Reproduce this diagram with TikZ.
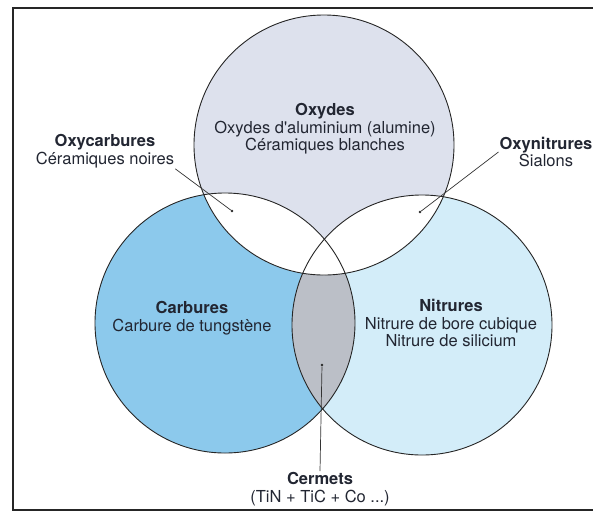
\documentclass[tikz,border=0pt]{standalone}
\usepackage{fontspec}
\setmainfont{TeX Gyre Heros}
\usetikzlibrary{positioning}
\definecolor{oxgris}{RGB}{221,225,237}
\definecolor{carbleu}{RGB}{140,201,236}
\definecolor{nitcyan}{RGB}{211,237,249}
\definecolor{cergris}{RGB}{187,191,199}
\definecolor{texte}{RGB}{34,38,50}

\begin{document}
\begin{tikzpicture}[x=1pt,y=-1pt]
					\tikzstyle{label} = [text=texte,align=center,font=\fontsize{16.5}{17.5}\selectfont,inner sep=1pt]
					\tikzstyle{contour} = [draw=black!85,line width=0.9pt]
					\tikzstyle{pointer} = [draw=black!80,line width=0.7pt]
					\tikzstyle{dot} = [circle,fill=black!85,inner sep=0pt,minimum size=2.6pt]
					\useasboundingbox (0,0) rectangle (593,512);
					\clip (0,0) rectangle (593,512);
					\def\rayon{130pt}
					\coordinate (cO) at (324,145);
					\coordinate (cC) at (225,323);
					\coordinate (cN) at (422,325);
					% surfaces
					\fill[carbleu] (cC) circle (\rayon);
					\fill[nitcyan] (cN) circle (\rayon);
					\begin{scope}
					\clip (cC) circle (\rayon);
					\fill[cergris] (cN) circle (\rayon);
					\end{scope}
					\fill[oxgris] (cO) circle (\rayon);
					\begin{scope}
					\clip (cO) circle (\rayon);
					\fill[white] (cC) circle (\rayon);
					\fill[white] (cN) circle (\rayon);
					\end{scope}
					\draw[contour] (cO) circle (\rayon);
					\draw[contour] (cC) circle (\rayon);
					\draw[contour] (cN) circle (\rayon);
					% cadre
					\draw[line width=1.6pt,black!85] (13,8) rectangle (612,510);
					% textes
					\node[label] (oxydes) at (325,129) {\textbf{Oxydes}\\Oxydes d\textquotesingle aluminium (alumine)\\Céramiques blanches};
					\node[label] (oxycarb) at (105,151) {\textbf{Oxycarbures}\\Céramiques noires};
					\node[label] (oxynitr) at (546,152) {\textbf{Oxynitrures}\\Sialons};
					\node[label] (carbures) at (192,318) {\textbf{Carbures}\\Carbure de tungstène};
					\node[label] (nitrures) at (451,323) {\textbf{Nitrures}\\Nitrure de bore cubique\\Nitrure de silicium};
					\node[label] (cermets) at (320,489) {\textbf{Cermets}\\(TiN + TiC + Co ...)};
					% renvois
					\node[dot] (p1) at (232,211) {};
					\node[dot] (p2) at (420,212) {};
					\node[dot] (p3) at (322,365) {};
					\draw[pointer] (oxycarb.south east)--(p1);
					\draw[pointer] (oxynitr.west)--(p2);
					\draw[pointer] (cermets.north)--(p3);
					\end{tikzpicture}
\end{document}
